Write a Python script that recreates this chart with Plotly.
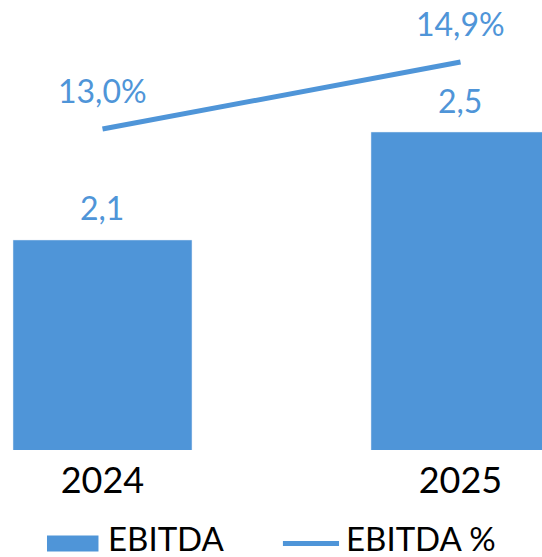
import plotly.graph_objects as go

years = ["2024", "2025"]
ebitda = [2.1, 2.5]
ebitda_pct = [13.0, 14.9]
ebitda_labels = ["2,1", "2,5"]
pct_labels = ["13,0%", "14,9%"]

BLUE = "#4F95D8"
FONT = "Lato"

fig = go.Figure()
fig.add_trace(go.Bar(x=years, y=ebitda, name="EBITDA", marker_color=BLUE,
                     width=0.5, showlegend=False))
fig.add_trace(go.Scatter(x=years, y=ebitda_pct, name="EBITDA %", mode="lines",
                         line=dict(color=BLUE, width=5), yaxis="y2",
                         showlegend=False))

annotations = []
for i, (v, t) in enumerate(zip(ebitda, ebitda_labels)):
    annotations.append(dict(x=i, y=v, xref="x", yref="y", text=t, showarrow=False,
                            yanchor="middle", yshift=32,
                            font=dict(family=FONT, size=32, color=BLUE)))
for i, (v, t) in enumerate(zip(ebitda_pct, pct_labels)):
    annotations.append(dict(x=i, y=v, xref="x", yref="y2", text=t, showarrow=False,
                            yanchor="middle", yshift=39,
                            font=dict(family=FONT, size=32, color=BLUE)))
# custom legend
LEG_Y = -0.1956
annotations.append(dict(x=0.1956, y=LEG_Y, xref="paper", yref="paper", text="EBITDA",
                        showarrow=False, xanchor="left", yanchor="middle",
                        font=dict(family=FONT, size=33, color="black")))
annotations.append(dict(x=0.6347, y=LEG_Y, xref="paper", yref="paper", text="EBITDA %",
                        showarrow=False, xanchor="left", yanchor="middle",
                        font=dict(family=FONT, size=33, color="black")))

shapes = [
    dict(type="rect", xref="paper", yref="paper", x0=0.0867, x1=0.1817,
         y0=-0.1900, y1=-0.2256, fillcolor=BLUE, line=dict(width=0)),
    dict(type="line", xref="paper", yref="paper", x0=0.522, x1=0.6255,
         y0=-0.2078, y1=-0.2078, line=dict(color=BLUE, width=5)),
]

fig.update_layout(
    width=542, height=557,
    margin=dict(l=0, r=0, t=0, b=107),
    paper_bgcolor="white", plot_bgcolor="white",
    font=dict(family=FONT),
    xaxis=dict(type="category", range=[-0.2863, 1.2277], showgrid=False,
               showline=False, zeroline=False,
               tickfont=dict(family=FONT, size=36, color="black"),
               ticks="", ticklabelstandoff=6),
    yaxis=dict(range=[1.322, 2.989], visible=False, showgrid=False),
    yaxis2=dict(range=[3.897, 16.66], overlaying="y", visible=False, showgrid=False),
    annotations=annotations,
    shapes=shapes,
    showlegend=False,
)

fig.write_html("out.html", config={"displayModeBar": False},
               post_script="document.body.style.margin='0';document.body.style.overflow='hidden';")
